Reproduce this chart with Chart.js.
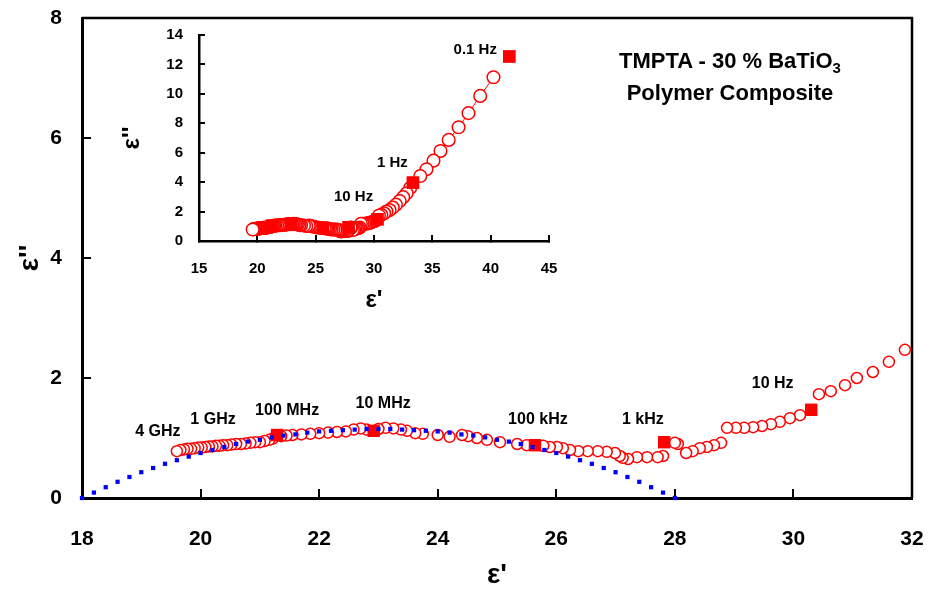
<!DOCTYPE html>
<html>
<head>
<meta charset="utf-8">
<script src="https://cdn.jsdelivr.net/npm/chart.js@4/dist/chart.umd.min.js"></script>
<style>
  body { margin: 0; background: #fff; }
  #wrap { position: relative; width: 930px; height: 596px; }
  #main { position: absolute; left: 0; top: 0; }
  #inset { position: absolute; left: 100px; top: 15px; }
  #title {
    position: absolute; left: 600px; top: 45px; width: 260px;
    text-align: center; color: #000;
    font: bold 22px "Liberation Sans", Arial, sans-serif; line-height: 32px;
  }
  #title sub { font-size: 15px; line-height: 0; vertical-align: -5px; }
</style>
</head>
<body>
<div id="wrap">
  <canvas id="main" width="930" height="596"></canvas>
  <canvas id="inset" width="480" height="310"></canvas>
  <div id="title">TMPTA - 30 % BaTiO<sub>3</sub><br>Polymer Composite</div>
</div>
<script>
// eps' and eps'' (open circles), from 4 GHz down to 0.1 Hz
const epsReal = [
  19.60, 19.66, 19.72, 19.78, 19.84, 19.90, 19.96, 20.02, 20.08, 20.14,
  20.20, 20.26, 20.32, 20.38, 20.45, 20.52, 20.60, 20.68, 20.76, 20.84,
  20.92, 21.00, 21.08, 21.16, 21.22, 21.36, 21.45, 21.55, 21.70, 21.85,
  22.00, 22.15, 22.30, 22.45, 22.58, 22.70, 22.80, 23.00, 23.12, 23.25,
  23.38, 23.48, 23.62, 23.75, 24.00, 24.20, 24.41, 24.51, 24.66, 24.83,
  25.05, 25.34, 25.50, 25.78, 25.89, 26.01, 26.11, 26.23, 26.37, 26.53,
  26.70, 26.85, 26.99, 27.07, 27.12, 27.21, 27.36, 27.53, 27.71, 27.80,
  28.00, 28.05, 28.19, 28.30, 28.42, 28.54, 28.66, 28.78, 28.88, 29.03,
  29.17, 29.32, 29.47, 29.62, 29.77, 29.94, 30.11, 30.43, 30.63, 30.87,
  31.07, 31.34, 31.61, 31.88, 32.20, 32.50, 32.80, 33.10, 33.97, 34.50,
  35.10, 35.70, 36.40, 37.25, 38.10, 39.10, 40.24
];
const epsImag = [
  0.78, 0.80, 0.81, 0.82, 0.82, 0.83, 0.84, 0.84, 0.85, 0.86,
  0.86, 0.87, 0.87, 0.88, 0.88, 0.89, 0.90, 0.90, 0.91, 0.92,
  0.93, 0.93, 0.95, 0.97, 0.99, 1.03, 1.04, 1.05, 1.06, 1.07,
  1.08, 1.09, 1.10, 1.11, 1.14, 1.16, 1.14, 1.15, 1.17, 1.16,
  1.14, 1.12, 1.08, 1.07, 1.05, 1.02, 1.05, 1.03, 1.00, 0.97,
  0.93, 0.90, 0.88, 0.87, 0.85, 0.85, 0.83, 0.80, 0.78, 0.78,
  0.78, 0.77, 0.75, 0.70, 0.67, 0.65, 0.68, 0.68, 0.68, 0.70,
  0.92, 0.90, 0.75, 0.78, 0.83, 0.85, 0.88, 0.92, 1.17, 1.17,
  1.17, 1.18, 1.20, 1.23, 1.27, 1.33, 1.38, 1.73, 1.78, 1.88,
  2.00, 2.10, 2.27, 2.47, 2.72, 2.98, 3.24, 3.60, 4.42, 4.88,
  5.46, 6.12, 6.87, 7.73, 8.69, 9.86, 11.13
];

// filled squares at the decade frequencies
const markerReal = [21.29, 22.92, 25.64, 27.82, 30.30, 33.34, 41.60];
const markerImag = [1.05, 1.12, 0.88, 0.93, 1.47, 3.97, 12.54];

// fitted semicircle (blue dots)
const arcReal = [
  18.0, 18.2, 18.4, 18.6, 18.8, 19.0, 19.2, 19.4, 19.6, 19.8,
  20.0, 20.2, 20.4, 20.6, 20.8, 21.0, 21.2, 21.4, 21.6, 21.8,
  22.0, 22.2, 22.4, 22.6, 22.8, 23.0, 23.2, 23.4, 23.6, 23.8,
  24.0, 24.2, 24.4, 24.6, 24.8, 25.0, 25.2, 25.4, 25.6, 25.8,
  26.0, 26.2, 26.4, 26.6, 26.8, 27.0, 27.2, 27.4, 27.6, 27.8, 28.0
];
const arcImag = [
  0.00, 0.09, 0.18, 0.27, 0.35, 0.43, 0.50, 0.57, 0.63, 0.69,
  0.75, 0.80, 0.85, 0.90, 0.94, 0.97, 1.01, 1.04, 1.06, 1.09,
  1.11, 1.12, 1.13, 1.14, 1.15, 1.15, 1.15, 1.14, 1.13, 1.12,
  1.11, 1.09, 1.06, 1.04, 1.01, 0.97, 0.94, 0.90, 0.85, 0.80,
  0.75, 0.69, 0.63, 0.57, 0.50, 0.43, 0.35, 0.27, 0.18, 0.09, 0.00
];

// frequency labels (anchored in data units)
const mainLabels = ["4 GHz", "1 GHz", "100 MHz", "10 MHz", "100 kHz", "1 kHz", "10 Hz"];
const mainLabelReal = [19.28, 20.21, 21.46, 23.08, 25.69, 27.46, 29.65];
const mainLabelImag = [1.10, 1.30, 1.45, 1.57, 1.30, 1.30, 1.90];
const insetLabels = ["10 Hz", "1 Hz", "0.1 Hz"];
const insetLabelReal = [28.25, 31.58, 38.68];
const insetLabelImag = [2.99, 5.31, 12.99];

// tick values
const mainXTicks = [18, 20, 22, 24, 26, 28, 30, 32];
const mainYTicks = [0, 2, 4, 6, 8];
const insetXTicks = [15, 20, 25, 30, 35, 40, 45];
const insetYTicks = [0, 2, 4, 6, 8, 10, 12, 14];

Chart.defaults.font.family = '"Liberation Sans", Arial, sans-serif';
Chart.defaults.font.weight = "bold";
Chart.defaults.color = "#000";

function points(xs, ys, maxX) {
  const out = [];
  xs.forEach((x, i) => { if (x <= maxX) out.push({ x: x, y: ys[i] }); });
  return out;
}

function useTicks(list) {
  return function (scale) {
    scale.ticks = list.map(v => ({ value: v }));
  };
}

// fixed axis size, no extra label padding
function fixSize(key, val) {
  return function (s) {
    s[key] = val;
    s.paddingLeft = s.paddingRight = s.paddingTop = s.paddingBottom = 0;
  };
}

// text labels at data positions
function labelPlugin(texts, xs, ys, size) {
  return {
    id: "labels",
    afterDatasetsDraw(chart) {
      const { ctx, scales: { x, y } } = chart;
      ctx.save();
      ctx.font = "bold " + size + 'px "Liberation Sans", Arial, sans-serif';
      ctx.fillStyle = "#000";
      ctx.textAlign = "center";
      ctx.textBaseline = "middle";
      texts.forEach((t, i) => {
        ctx.fillText(t, x.getPixelForValue(xs[i]), y.getPixelForValue(ys[i]));
      });
      ctx.restore();
    }
  };
}

// top and right edge of the main frame
const framePlugin = {
  id: "frame",
  beforeDatasetsDraw(chart) {
    const { ctx, chartArea: a } = chart;
    ctx.save();
    ctx.strokeStyle = "#000";
    ctx.lineWidth = 2.5;
    ctx.beginPath();
    ctx.moveTo(a.left, a.top);
    ctx.lineTo(a.right, a.top);
    ctx.lineTo(a.right, a.bottom);
    ctx.stroke();
    ctx.restore();
  }
};

const circlesDown = points(epsReal, epsImag, 99).reverse();

// Main plot
new Chart(document.getElementById("main"), {
  type: "scatter",
  data: {
    datasets: [
      {
        data: points(arcReal, arcImag, 99),
        clip: false,
        pointStyle: "rect",
        pointRadius: 3,
        pointBackgroundColor: "#0000ff",
        pointBorderWidth: 0
      },
      {
        data: points(markerReal, markerImag, 32),
        pointStyle: "rect",
        pointRadius: 8.8,
        pointBackgroundColor: "#ff0000",
        pointBorderWidth: 0
      },
      {
        data: circlesDown.filter(p => p.x <= 32),
        pointStyle: "circle",
        pointRadius: 5.5,
        pointBackgroundColor: "#ffffff",
        pointBorderColor: "#ff0000",
        pointBorderWidth: 1.5
      }
    ]
  },
  options: {
    responsive: false,
    animation: false,
    events: [],
    layout: { padding: { top: 18, right: 18, left: 0, bottom: 0 } },
    plugins: { legend: { display: false }, tooltip: { enabled: false } },
    scales: {
      x: {
        type: "linear",
        min: mainXTicks[0],
        max: mainXTicks[mainXTicks.length - 1],
        afterBuildTicks: useTicks(mainXTicks),
        afterFit: fixSize("height", 98),
        grid: { drawOnChartArea: false, tickLength: -9, color: "#000", lineWidth: 2 },
        border: { color: "#000", width: 3 },
        ticks: { font: { size: 21 }, padding: 38 },
        title: { display: true, text: "ε'", font: { size: 28 }, padding: { top: 0, bottom: 4 } }
      },
      y: {
        type: "linear",
        min: mainYTicks[0],
        max: mainYTicks[mainYTicks.length - 1],
        afterBuildTicks: useTicks(mainYTicks),
        afterFit: fixSize("width", 82),
        grid: { drawOnChartArea: false, tickLength: -9, color: "#000", lineWidth: 2 },
        border: { color: "#000", width: 3 },
        ticks: { font: { size: 21 }, padding: 29 },
        title: { display: true, text: "ε''", font: { size: 28 }, padding: { top: 13, bottom: 0 } }
      }
    }
  },
  plugins: [framePlugin, labelPlugin(mainLabels, mainLabelReal, mainLabelImag, 16)]
});

// Inset: full frequency range
new Chart(document.getElementById("inset"), {
  type: "scatter",
  data: {
    datasets: [
      {
        data: points(markerReal, markerImag, 99),
        pointStyle: "rect",
        pointRadius: 9,
        pointBackgroundColor: "#ff0000",
        pointBorderWidth: 0
      },
      {
        data: circlesDown,
        showLine: true,
        borderColor: "#ff0000",
        borderWidth: 1,
        pointStyle: "circle",
        pointRadius: 6.3,
        pointBackgroundColor: "#ffffff",
        pointBorderColor: "#ff0000",
        pointBorderWidth: 1.5
      }
    ]
  },
  options: {
    responsive: false,
    animation: false,
    events: [],
    layout: { padding: { top: 20, right: 31, left: 0, bottom: 0 } },
    plugins: { legend: { display: false }, tooltip: { enabled: false } },
    scales: {
      x: {
        type: "linear",
        min: insetXTicks[0],
        max: insetXTicks[insetXTicks.length - 1],
        afterBuildTicks: useTicks(insetXTicks),
        afterFit: fixSize("height", 84),
        grid: { drawOnChartArea: false, tickLength: -6, color: "#000", lineWidth: 2 },
        border: { color: "#000", width: 2.5 },
        ticks: { font: { size: 15 }, padding: 25 },
        title: { display: true, text: "ε'", font: { size: 24 }, padding: { top: 0, bottom: 10 } }
      },
      y: {
        type: "linear",
        min: insetYTicks[0],
        max: insetYTicks[insetYTicks.length - 1],
        afterBuildTicks: useTicks(insetYTicks),
        afterFit: fixSize("width", 99),
        grid: { drawOnChartArea: false, tickLength: -6, color: "#000", lineWidth: 2 },
        border: { color: "#000", width: 2.5 },
        ticks: { font: { size: 15 }, padding: 22 },
        title: { display: true, text: "ε''", font: { size: 24 }, padding: { top: 18, bottom: 0 } }
      }
    }
  },
  plugins: [labelPlugin(insetLabels, insetLabelReal, insetLabelImag, 15)]
});
</script>
</body>
</html>
